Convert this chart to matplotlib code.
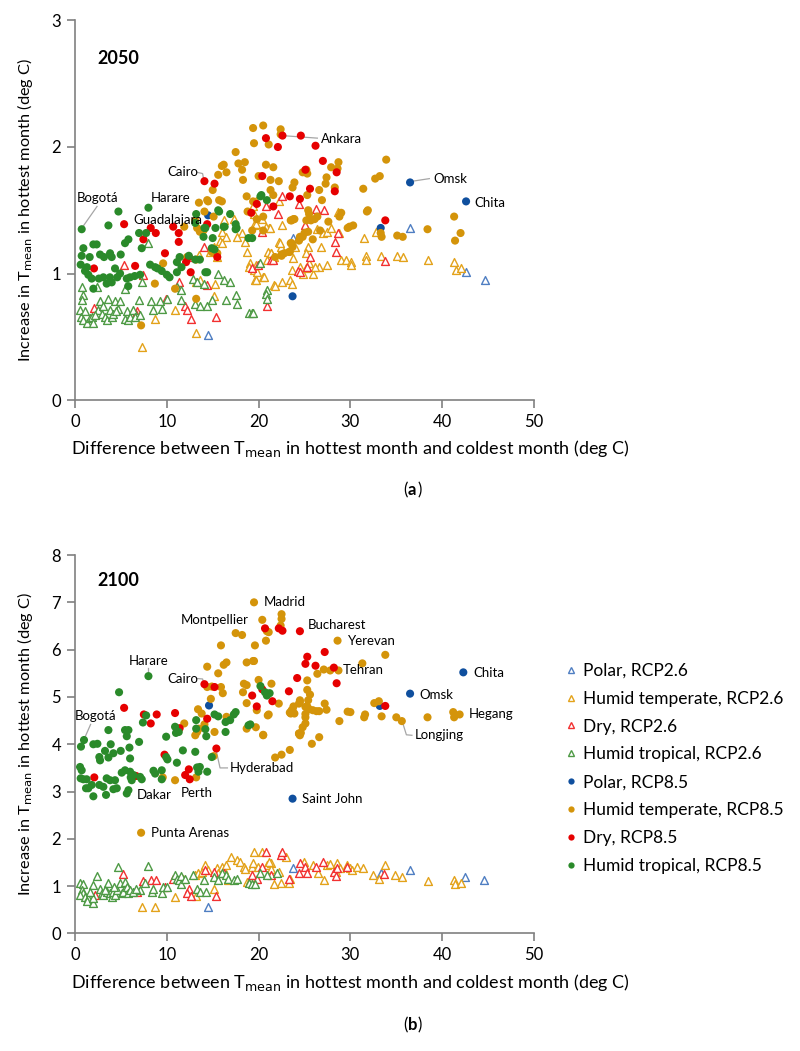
import matplotlib
matplotlib.use("Agg")
import matplotlib.pyplot as plt
from matplotlib.lines import Line2D

plt.rcParams['font.family'] = ['Lato', 'DejaVu Sans']

# ---------------- Panel (a): 2050 ----------------
a_polar26 = [(14.5, 0.51), (23.8, 1.28), (36.5, 1.36), (42.6, 1.01), (44.7, 0.95)]
a_temp26 = [(7.27, 0.42), (8.7, 0.64), (10.9, 0.71), (13.2, 0.53), (15.2, 0.92), (15.1, 0.82), (13.2, 0.93),
            (13.6, 0.95), (13.5, 1.15), (16.2, 1.42), (16.0, 1.33), (16.4, 1.29), (15.8, 1.26), (16.0, 1.24),
            (15.1, 1.21), (15.5, 1.13), (14.7, 1.17), (17.3, 1.43), (18.2, 1.32), (17.6, 1.29), (18.5, 1.25),
            (18.7, 1.17), (19.1, 1.08), (18.9, 1.05), (19.5, 1.03), (19.8, 1.01), (19.6, 0.95), (20.5, 0.97),
            (21.3, 1.16), (20.9, 1.11), (21.6, 1.13), (22.4, 1.21), (22.2, 1.25), (21.7, 0.91), (22.5, 0.93),
            (23.4, 0.95), (19.5, 1.47), (20.4, 1.43), (19.5, 1.38), (21.1, 1.36), (22.2, 1.57), (19.7, 1.57),
            (22.3, 1.24), (21.0, 1.17), (21.4, 1.16), (21.7, 1.13), (19.7, 1.07), (20.6, 0.97), (19.7, 0.95),
            (21.8, 0.90), (23.6, 0.92), (23.8, 1.12), (24.0, 1.21), (25.4, 1.21), (25.2, 1.16), (26.8, 1.21),
            (25.5, 1.08), (26.6, 1.05), (27.5, 1.07), (23.6, 1.03), (24.5, 1.05), (24.8, 1.00), (25.9, 1.00),
            (25.2, 1.04), (26.1, 1.05), (27.0, 1.32), (27.4, 1.33), (27.9, 1.36), (28.8, 1.32), (28.6, 1.49),
            (26.4, 1.35), (29.0, 1.11), (29.5, 1.11), (30.1, 1.09), (30.1, 1.07), (31.7, 1.14), (31.7, 1.11),
            (33.3, 1.14), (35.1, 1.14), (35.7, 1.13), (38.4, 1.11), (31.5, 1.28), (32.8, 1.33), (20.8, 1.37),
            (21.2, 1.36), (19.7, 1.39), (41.3, 1.09), (41.5, 1.03), (42.0, 1.04), (19.4, 1.53), (22.6, 1.38)]
a_dry26 = [(2.07, 0.73), (5.3, 1.07), (7.45, 0.99), (6.7, 0.70), (6.6, 0.68), (9.9, 0.80), (11.3, 0.93),
           (12.0, 0.74), (12.2, 0.71), (12.6, 0.64), (14.4, 0.91), (15.4, 0.66), (14.1, 1.21), (12.4, 1.13),
           (19.3, 1.04), (19.9, 1.07), (20.4, 1.33), (21.4, 1.11), (20.8, 1.53), (22.1, 1.47), (22.5, 1.61),
           (24.4, 1.55), (24.3, 1.02), (25.3, 1.05), (26.2, 1.51), (27.1, 1.50), (25.1, 1.38), (28.6, 1.32),
           (28.3, 1.25), (28.4, 1.17), (25.6, 1.13), (24.5, 1.01), (33.8, 1.10), (21.6, 1.11), (20.9, 0.74)]
a_trop26 = [(0.73, 0.89), (0.9, 0.83), (0.73, 0.79), (0.55, 0.71), (0.62, 0.66), (0.9, 0.63), (1.27, 0.61),
            (1.64, 0.65), (1.82, 0.66), (2.0, 0.61), (2.36, 0.89), (2.55, 0.71), (2.73, 0.78), (2.91, 0.68),
            (3.27, 0.66), (3.45, 0.63), (3.64, 0.80), (3.82, 0.71), (4.0, 0.66), (4.18, 0.68), (4.36, 0.78),
            (4.73, 0.72), (4.91, 0.78), (5.45, 0.64), (5.64, 0.70), (5.82, 0.63), (6.0, 0.66), (6.29, 0.71),
            (6.55, 0.66), (7.02, 0.79), (7.09, 0.67), (5.45, 0.88), (8.0, 1.24), (7.27, 0.93), (8.25, 0.78),
            (8.55, 0.71), (9.45, 0.72), (9.27, 0.78), (10.0, 0.80), (11.1, 0.89), (11.5, 0.87), (11.6, 0.79),
            (12.9, 0.96), (13.3, 0.93), (13.1, 0.76), (13.6, 0.74), (14.0, 0.92), (14.4, 0.74), (15.6, 1.0),
            (16.2, 0.95), (16.9, 0.93), (16.4, 0.79), (17.5, 0.83), (17.6, 0.76), (18.9, 0.69), (19.3, 0.69),
            (20.2, 1.08), (14.9, 0.79), (20.9, 0.87), (20.8, 0.84), (20.9, 0.80), (19.4, 0.69), (3.0, 0.74),
            (1.1, 0.70), (4.5, 0.70), (2.2, 0.67)]
a_polar85 = [(14.5, 1.46), (23.7, 0.82), (36.5, 1.72), (42.6, 1.57), (33.3, 1.36)]
a_temp85 = [(19.4, 2.15), (20.5, 2.17), (22.4, 2.14), (22.4, 2.10), (19.5, 2.03), (21.1, 2.02), (17.5, 1.96),
            (16.2, 1.86), (16.0, 1.85), (17.8, 1.87), (18.5, 1.88), (18.2, 1.82), (15.6, 1.78), (16.5, 1.80),
            (18.3, 1.74), (20.8, 1.86), (21.6, 1.84), (22.2, 1.73), (21.3, 1.74), (20.0, 1.77), (15.0, 1.66),
            (14.4, 1.58), (14.5, 1.57), (15.7, 1.58), (16.0, 1.57), (13.5, 1.56), (18.7, 1.61), (21.3, 1.66),
            (21.6, 1.62), (19.4, 1.57), (14.1, 1.49), (15.1, 1.45), (18.8, 1.49), (20.5, 1.45), (19.8, 1.43),
            (13.1, 1.42), (13.3, 1.36), (13.6, 1.33), (14.0, 1.34), (11.9, 1.37), (23.5, 1.42), (23.8, 1.43),
            (24.4, 1.26), (24.5, 1.29), (23.5, 1.24), (22.5, 1.15), (23.3, 1.17), (20.5, 1.34), (19.3, 1.34),
            (14.9, 1.17), (15.5, 1.16), (13.2, 1.11), (12.2, 1.13), (9.6, 1.08), (8.7, 0.92), (10.9, 0.88),
            (13.2, 0.80), (7.2, 0.59), (23.9, 1.72), (23.7, 1.68), (24.8, 1.80), (25.2, 1.82), (25.3, 1.79),
            (27.9, 1.84), (28.7, 1.88), (28.6, 1.83), (27.4, 1.76), (27.3, 1.71), (26.6, 1.66), (26.9, 1.58),
            (25.3, 1.62), (28.3, 1.68), (31.4, 1.67), (32.7, 1.75), (33.2, 1.77), (33.9, 1.90), (31.8, 1.49),
            (31.9, 1.50), (29.0, 1.48), (28.8, 1.45), (29.9, 1.37), (30.3, 1.38), (29.7, 1.36), (25.4, 1.50),
            (25.5, 1.47), (26.1, 1.43), (25.7, 1.42), (25.2, 1.42), (26.4, 1.45), (23.9, 1.43), (23.6, 1.42),
            (27.6, 1.41), (26.7, 1.34), (25.4, 1.33), (25.0, 1.32), (24.8, 1.29), (24.5, 1.28), (25.9, 1.27),
            (23.6, 1.24), (23.7, 1.21), (23.4, 1.17), (22.8, 1.16), (21.8, 1.13), (22.5, 1.14), (33.3, 1.32),
            (33.4, 1.29), (35.1, 1.30), (35.7, 1.29), (38.4, 1.35), (41.3, 1.45), (42.0, 1.32), (41.4, 1.26)]
a_dry85 = [(5.35, 1.39), (2.07, 1.04), (6.55, 1.06), (7.45, 1.27), (8.25, 1.36), (8.8, 1.32), (9.8, 1.16),
           (10.7, 1.37), (11.3, 1.32), (11.3, 1.25), (12.1, 1.09), (12.4, 1.13), (12.6, 1.01), (14.1, 1.73),
           (15.2, 1.71), (14.4, 1.39), (15.5, 1.13), (20.4, 1.77), (19.8, 1.55), (20.8, 2.07), (22.1, 2.0),
           (22.6, 2.09), (24.6, 2.09), (26.2, 2.01), (27.0, 1.89), (28.5, 1.80), (25.6, 1.67), (28.3, 1.65),
           (21.6, 1.53), (23.4, 1.61), (24.5, 1.59), (25.1, 1.82), (33.8, 1.42), (19.2, 1.48)]
a_trop85 = [(0.73, 1.35), (4.73, 1.49), (8.0, 1.52), (3.64, 1.38), (0.91, 1.20), (2.0, 1.23), (2.36, 1.23),
            (0.73, 1.14), (2.73, 1.15), (3.82, 1.16), (3.16, 1.13), (4.98, 1.15), (5.45, 1.24), (5.82, 1.27),
            (6.98, 1.32), (7.27, 1.20), (7.75, 1.32), (0.62, 1.07), (1.09, 1.02), (1.45, 0.99), (1.82, 0.96),
            (2.0, 0.88), (3.09, 0.97), (3.45, 0.92), (4.0, 0.93), (4.36, 1.04), (4.91, 1.0), (5.64, 0.96),
            (6.0, 0.97), (7.09, 0.99), (8.18, 1.07), (8.73, 1.05), (9.45, 1.02), (10.0, 0.99), (11.1, 1.01),
            (11.1, 1.09), (11.6, 1.05), (12.4, 1.14), (13.2, 1.47), (13.1, 1.40), (14.2, 1.36), (14.0, 1.29),
            (15.0, 1.28), (15.2, 1.19), (15.7, 1.49), (16.2, 1.37), (16.9, 1.47), (17.5, 1.39), (17.5, 1.35),
            (18.9, 1.28), (19.3, 1.28), (20.2, 1.61), (20.9, 1.58), (13.6, 1.11), (14.4, 1.01), (13.1, 1.11),
            (1.6, 1.13), (4.0, 1.13), (20.3, 1.62), (15.6, 1.50), (17.6, 1.36), (16.3, 1.37), (15.3, 1.36),
            (14.1, 1.36), (14.9, 1.20), (14.2, 1.01), (3.8, 0.97), (4.6, 0.97), (5.8, 0.90), (2.6, 0.96),
            (6.5, 0.98), (9.0, 1.04), (1.3, 1.05), (10.3, 0.97), (11.4, 1.13)]

# ---------------- Panel (b): 2100 ----------------
b_polar26 = [(14.5, 0.57), (23.7, 1.38), (33.3, 1.27), (36.5, 1.35), (42.5, 1.20), (44.6, 1.14)]
b_temp26 = [(7.27, 0.57), (8.7, 0.57), (10.9, 0.78), (13.2, 0.79), (15.1, 0.95), (11.8, 1.16), (13.1, 1.23),
            (13.4, 1.27), (13.8, 1.30), (14.2, 1.44), (14.5, 1.34), (15.5, 1.38), (16.0, 1.41), (16.2, 1.34),
            (16.5, 1.44), (15.6, 1.27), (16.7, 1.14), (17.6, 1.55), (18.0, 1.51), (18.4, 1.41), (18.5, 1.37),
            (18.7, 1.09), (19.1, 1.13), (19.3, 1.41), (19.4, 1.48), (19.9, 1.41), (20.9, 1.44), (21.3, 1.48),
            (21.4, 1.37), (21.7, 1.04), (22.2, 1.30), (22.4, 1.07), (23.3, 1.07), (23.4, 1.16), (26.5, 1.27),
            (27.1, 1.13), (27.4, 1.44), (27.8, 1.47), (28.4, 1.30), (28.5, 1.48), (28.9, 1.38), (29.6, 1.44),
            (30.0, 1.38), (30.2, 1.34), (30.7, 1.41), (31.4, 1.38), (32.5, 1.23), (33.1, 1.16), (33.8, 1.44),
            (34.9, 1.23), (35.6, 1.20), (38.4, 1.11), (41.3, 1.14), (41.4, 1.04), (42.0, 1.07), (19.5, 1.73),
            (20.4, 1.73), (21.1, 1.52), (22.5, 1.70), (23.0, 1.62), (24.9, 1.52), (25.9, 1.45), (17.0, 1.62)]
b_dry26 = [(5.27, 1.26), (7.45, 1.11), (8.3, 1.13), (8.8, 1.13), (2.18, 0.81), (6.7, 0.88), (9.8, 0.99),
           (10.7, 1.16), (12.4, 0.95), (12.2, 0.86), (12.6, 0.79), (15.4, 0.79), (14.2, 1.34), (15.1, 1.30),
           (16.2, 1.27), (19.3, 1.23), (19.8, 1.16), (20.4, 1.41), (21.4, 1.23), (23.3, 1.16), (24.4, 1.27),
           (24.5, 1.49), (25.1, 1.41), (25.3, 1.27), (26.2, 1.41), (27.0, 1.51), (28.2, 1.30), (28.4, 1.21),
           (28.5, 1.38), (29.6, 1.41), (33.7, 1.26), (20.8, 1.73), (22.4, 1.66), (22.5, 1.73)]
b_trop26 = [(4.73, 1.40), (7.9, 1.42), (2.36, 1.22), (0.55, 1.07), (0.91, 1.04), (0.73, 0.92), (0.91, 0.85),
            (0.55, 0.81), (1.09, 0.78), (1.45, 0.74), (1.27, 0.69), (2.0, 0.65), (1.93, 0.76), (2.0, 1.02),
            (2.73, 0.95), (2.91, 0.85), (3.09, 0.81), (3.45, 0.88), (3.64, 1.06), (3.82, 0.85), (4.0, 0.78),
            (4.18, 0.88), (4.36, 0.81), (4.55, 0.92), (4.91, 1.06), (5.09, 0.85), (5.27, 0.88), (5.45, 1.09),
            (5.64, 0.99), (5.82, 0.85), (6.0, 0.92), (6.36, 0.88), (7.09, 0.92), (7.63, 1.06), (8.36, 0.88),
            (8.54, 0.95), (9.45, 0.86), (9.63, 0.99), (10.0, 0.99), (10.9, 1.23), (11.1, 1.16), (11.3, 1.13),
            (11.5, 1.04), (11.6, 1.21), (12.0, 1.16), (12.9, 1.23), (13.3, 0.95), (13.6, 0.88), (14.0, 1.13),
            (14.3, 0.88), (15.1, 1.20), (15.6, 1.14), (16.0, 1.27), (16.4, 1.23), (16.7, 1.16), (17.3, 1.13),
            (17.6, 1.16), (18.9, 1.07), (19.3, 1.04), (19.6, 1.04), (20.2, 1.27), (20.9, 1.23), (22.0, 1.28),
            (3.3, 0.92), (4.2, 0.98), (6.6, 0.95), (1.6, 0.88)]
b_polar85 = [(14.6, 4.82), (23.7, 2.85), (33.2, 4.81), (36.5, 5.07), (42.3, 5.52)]
b_temp85 = [(19.5, 7.0), (20.4, 6.63), (22.5, 6.75), (22.5, 6.65), (22.4, 6.51), (20.9, 6.39), (20.8, 6.19),
            (17.5, 6.35), (18.2, 6.31), (15.9, 6.09), (19.6, 6.09), (14.4, 5.64), (15.6, 5.50), (16.2, 5.68),
            (16.5, 5.73), (18.7, 5.73), (19.5, 5.76), (20.0, 5.36), (18.4, 5.28), (18.7, 5.25), (15.9, 5.21),
            (16.1, 5.08), (14.4, 5.21), (14.9, 5.22), (14.8, 4.96), (18.3, 5.10), (18.7, 4.87), (19.8, 4.72),
            (21.1, 4.63), (22.2, 4.86), (23.5, 4.65), (23.6, 4.72), (24.4, 4.86), (24.5, 4.93), (13.4, 4.74),
            (13.8, 4.65), (14.1, 4.42), (13.5, 4.33), (13.3, 4.26), (13.1, 4.19), (11.9, 4.44), (15.2, 4.26),
            (16.5, 4.58), (18.7, 4.33), (20.5, 4.20), (24.4, 4.23), (23.4, 3.88), (22.5, 3.78), (21.8, 3.72),
            (15.1, 3.75), (10.9, 3.24), (9.56, 3.30), (13.2, 3.30), (7.2, 2.13), (21.1, 6.37), (28.6, 6.19),
            (33.8, 5.89), (31.3, 5.71), (27.1, 5.58), (27.8, 5.56), (28.7, 5.56), (26.4, 5.49), (25.3, 5.35),
            (21.4, 5.28), (25.3, 5.15), (25.6, 5.05), (25.4, 4.93), (24.5, 4.89), (27.2, 4.86), (25.1, 4.79),
            (25.3, 4.80), (25.5, 4.74), (25.9, 4.72), (26.3, 4.70), (26.6, 4.70), (27.4, 4.73), (23.8, 4.80),
            (23.7, 4.73), (23.6, 4.69), (23.9, 4.65), (23.4, 4.67), (25.1, 4.64), (25.1, 4.57), (25.1, 4.44),
            (21.0, 4.61), (19.7, 4.36), (20.5, 4.19), (24.8, 4.36), (24.6, 4.24), (24.5, 4.19), (26.6, 4.15),
            (25.8, 4.01), (28.8, 4.49), (29.7, 4.69), (30.0, 4.68), (31.6, 4.63), (31.5, 4.57), (32.6, 4.87),
            (33.1, 4.91), (33.4, 4.59), (35.0, 4.57), (35.6, 4.49), (38.4, 4.57), (41.2, 4.68), (41.3, 4.57),
            (41.9, 4.63), (24.4, 4.22), (19.4, 5.76)]
b_dry85 = [(2.1, 3.30), (5.35, 4.77), (7.5, 4.63), (8.25, 4.44), (8.9, 4.63), (10.9, 4.66), (11.4, 4.34),
           (6.65, 3.33), (9.75, 3.78), (12.4, 3.47), (12.0, 3.35), (12.5, 3.26), (15.4, 3.91), (14.1, 5.27),
           (15.2, 5.21), (14.4, 4.54), (19.3, 5.03), (19.8, 4.80), (20.4, 5.16), (21.5, 4.91), (20.7, 6.45),
           (22.2, 6.45), (22.6, 6.40), (24.5, 6.39), (27.2, 5.95), (25.3, 5.85), (25.1, 5.70), (26.2, 5.66),
           (28.2, 5.62), (24.2, 5.40), (28.5, 5.29), (23.3, 5.12), (33.8, 4.81)]
b_trop85 = [(0.65, 3.95), (0.98, 4.09), (8.0, 5.44), (4.8, 5.10), (7.4, 4.46), (7.75, 4.61), (2.0, 4.0),
            (2.44, 4.01), (3.27, 3.86), (3.64, 4.30), (3.89, 4.0), (4.18, 3.81), (2.65, 3.73), (2.73, 3.66),
            (3.64, 3.72), (4.98, 3.86), (5.45, 4.30), (5.82, 4.30), (5.64, 4.17), (6.0, 3.70), (5.93, 3.93),
            (6.98, 4.05), (0.55, 3.52), (0.73, 3.45), (0.62, 3.28), (0.91, 3.26), (1.27, 3.26), (1.45, 3.07),
            (1.82, 3.14), (2.0, 2.90), (1.2, 3.07), (2.65, 3.14), (3.09, 3.10), (3.38, 2.93), (3.45, 3.28),
            (3.82, 3.24), (4.18, 3.05), (4.36, 3.24), (4.55, 3.07), (5.09, 3.40), (5.45, 3.45), (6.0, 3.42),
            (6.07, 3.30), (6.36, 3.35), (6.18, 3.24), (5.82, 3.03), (5.64, 2.96), (7.09, 3.31), (7.27, 3.26),
            (8.55, 3.44), (8.73, 3.38), (9.45, 3.45), (9.45, 3.26), (9.93, 3.73), (10.07, 3.68), (11.1, 3.61),
            (11.75, 3.87), (13.1, 3.84), (13.3, 3.51), (13.6, 3.52), (13.45, 3.42), (14.4, 3.42), (14.9, 3.73),
            (10.9, 4.37), (11.0, 4.24), (11.3, 4.26), (9.93, 4.16), (13.2, 4.51), (13.2, 4.33), (14.2, 4.32),
            (14.3, 4.17), (15.2, 4.63), (15.6, 4.59), (16.4, 4.47), (16.4, 4.26), (16.9, 4.51), (17.3, 4.63),
            (17.5, 4.68), (18.9, 4.40), (19.1, 4.42), (20.2, 5.23), (20.7, 5.10), (20.9, 5.03), (21.2, 5.08)]

series_names = ["Polar, RCP2.6", "Humid temperate, RCP2.6", "Dry, RCP2.6", "Humid tropical, RCP2.6",
                "Polar, RCP8.5", "Humid temperate, RCP8.5", "Dry, RCP8.5", "Humid tropical, RCP8.5"]
panel_a = [a_polar26, a_temp26, a_dry26, a_trop26, a_polar85, a_temp85, a_dry85, a_trop85]
panel_b = [b_polar26, b_temp26, b_dry26, b_trop26, b_polar85, b_temp85, b_dry85, b_trop85]

tri_colors = ["#4F7EC2", "#E3A21A", "#F23030", "#4E9A45"]
dot_colors = ["#0F4F9E", "#D4940A", "#E60000", "#2A8A2A"]
grey = "#808080"
lead = "#A6A6A6"


def draw_panel(ax, series, ymax):
    for i, pts in enumerate(series):
        xs = [p[0] for p in pts]
        ys = [p[1] for p in pts]
        if i < 4:
            ax.scatter(xs, ys, marker='^', s=32, facecolors='white', edgecolors=tri_colors[i],
                       linewidths=1.0, zorder=2 + i * 0.1)
        else:
            ax.scatter(xs, ys, marker='o', s=34, color=dot_colors[i - 4], edgecolors='none',
                       zorder=3 + i * 0.1)
    ax.set_xlim(0, 50)
    ax.set_ylim(0, ymax)
    ax.set_xticks(range(0, 51, 10))
    ax.set_yticks(range(0, ymax + 1))
    for s in ['top', 'right']:
        ax.spines[s].set_visible(False)
    for s in ['left', 'bottom']:
        ax.spines[s].set_color(grey)
        ax.spines[s].set_linewidth(1.2)
    ax.tick_params(direction='out', length=6, width=1.2, color=grey, labelsize=12, pad=4)
    ax.set_xlabel("Difference between T$_{\\mathrm{mean}}$ in hottest month and coldest month (deg C)",
                  fontsize=13, x=0.6, labelpad=6)
    ax.set_ylabel("Increase in T$_{\\mathrm{mean}}$ in hottest month (deg C)", fontsize=11.8, labelpad=12)


def label(ax, text, x, y, ha='left', line=None):
    ax.text(x, y, text, fontsize=9.5, ha=ha, va='center', zorder=6)
    if line is not None:
        ax.plot([p[0] for p in line], [p[1] for p in line], color=lead, lw=0.9, zorder=1.5)


fig = plt.figure(figsize=(8, 10.51), dpi=100)
ax1 = fig.add_axes([0.09375, 0.6194, 0.57375, 0.3611])
ax2 = fig.add_axes([0.09375, 0.1118, 0.57375, 0.3601])

draw_panel(ax1, panel_a, 3)
draw_panel(ax2, panel_b, 8)

# annotations panel (a)
ax1.text(2.4, 2.7, "2050", fontsize=13, fontweight='bold', va='center')
label(ax1, "Bogotá", 2.5, 1.60, ha='center', line=[(2.4, 1.53), (0.85, 1.37)])
label(ax1, "Harare", 10.4, 1.60, ha='center')
label(ax1, "Guadalajara", 10.1, 1.42, ha='center')
label(ax1, "Cairo", 11.7, 1.80, ha='center', line=[(13.3, 1.80), (13.9, 1.79), (14.0, 1.75)])
label(ax1, "Ankara", 26.8, 2.06, line=[(22.6, 2.09), (26.4, 2.07)])
label(ax1, "Omsk", 39.0, 1.75, line=[(36.8, 1.73), (38.6, 1.75)])
label(ax1, "Chita", 43.5, 1.56)

# annotations panel (b)
ax2.text(2.4, 7.46, "2100", fontsize=13, fontweight='bold', va='center')
label(ax2, "Madrid", 20.6, 7.0)
label(ax2, "Montpellier", 18.9, 6.63, ha='right')
label(ax2, "Bucharest", 25.3, 6.53)
label(ax2, "Yerevan", 29.7, 6.19)
label(ax2, "Tehran", 29.2, 5.58)
label(ax2, "Chita", 43.4, 5.51)
label(ax2, "Omsk", 37.5, 5.05)
label(ax2, "Hegang", 42.9, 4.63)
label(ax2, "Longjing", 37.0, 4.19, line=[(35.7, 4.45), (36.1, 4.20), (36.7, 4.19)])
label(ax2, "Saint John", 24.7, 2.84)
label(ax2, "Hyderabad", 16.9, 3.50, line=[(15.4, 3.85), (15.8, 3.50), (16.6, 3.50)])
label(ax2, "Dakar", 6.7, 2.92)
label(ax2, "Perth", 11.5, 2.96)
label(ax2, "Punta Arenas", 8.3, 2.12)
label(ax2, "Harare", 8.07, 5.76, ha='center', line=[(8.0, 5.62), (8.0, 5.50)])
label(ax2, "Cairo", 11.7, 5.39, ha='center', line=[(13.3, 5.39), (13.9, 5.38), (14.0, 5.31)])
label(ax2, "Bogotá", 2.2, 4.60, ha='center', line=[(1.7, 4.42), (0.75, 4.0)])

fig.text(0.51, 0.5338, "(", fontsize=12, ha='right', va='center')
fig.text(0.51, 0.5338, "a", fontsize=12, fontweight='bold', ha='left', va='center')
fig.text(0.5215, 0.5338, ")", fontsize=12, ha='left', va='center')
fig.text(0.51, 0.0247, "(", fontsize=12, ha='right', va='center')
fig.text(0.51, 0.0247, "b", fontsize=12, fontweight='bold', ha='left', va='center')
fig.text(0.5225, 0.0247, ")", fontsize=12, ha='left', va='center')

handles = []
for i in range(4):
    handles.append(Line2D([], [], marker='^', linestyle='none', markersize=5, markerfacecolor='white',
                          markeredgecolor=tri_colors[i], markeredgewidth=1.0))
for i in range(4):
    handles.append(Line2D([], [], marker='o', linestyle='none', markersize=4.5, color=dot_colors[i],
                          markeredgecolor='none'))
fig.legend(handles, series_names, loc='upper left', bbox_to_anchor=(0.698, 1 - 656 / 1051),
           frameon=False, fontsize=12.5, labelspacing=0.68, handlelength=0.6, handletextpad=0.4,
           borderaxespad=0)

fig.savefig("out.png", dpi=100)
